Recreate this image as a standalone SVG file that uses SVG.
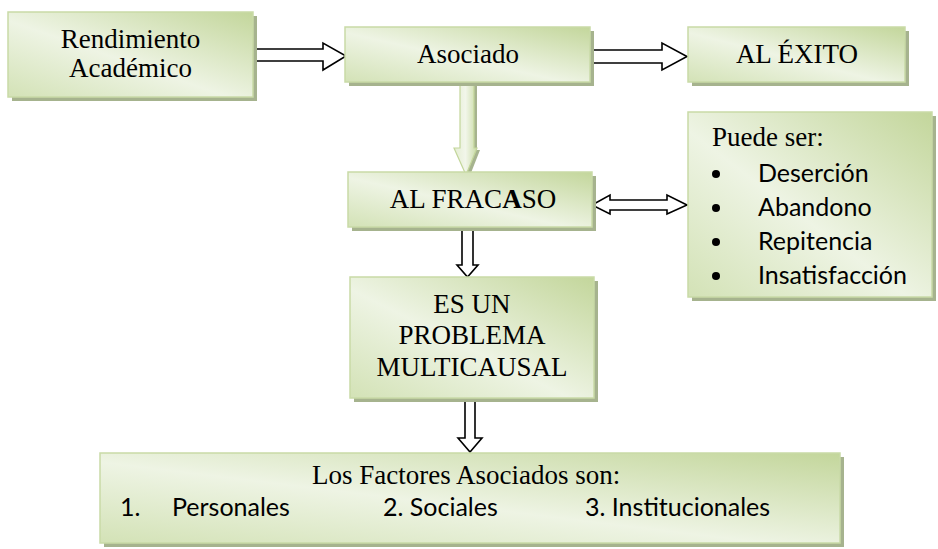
<svg xmlns="http://www.w3.org/2000/svg" width="938" height="549" viewBox="0 0 938 549">
<defs>
<linearGradient id="g" x1="0" y1="1" x2="1" y2="0">
<stop offset="0" stop-color="#d3e2b6"/>
<stop offset="0.45" stop-color="#eef4e4"/>
<stop offset="1" stop-color="#c3d69b"/>
</linearGradient>
<linearGradient id="ga" x1="0" y1="0" x2="1" y2="0">
<stop offset="0" stop-color="#e4edd2"/>
<stop offset="0.5" stop-color="#f2f6ea"/>
<stop offset="1" stop-color="#c9dba6"/>
</linearGradient>
<style>
.box{fill:url(#g);stroke:#c9daa7;stroke-width:1.5}
.sh{fill:#a6b38e}
.t{font-family:"Liberation Serif","Times New Roman",serif;font-size:27px;fill:#000}
.c{font-family:Lato,"Liberation Sans",sans-serif;font-size:25px;fill:#000}
.wa{fill:#fff;stroke:#000;stroke-width:1.6;stroke-linejoin:miter}
.ga{fill:url(#ga);stroke:#c3d69b;stroke-width:1.2}
</style>
</defs>
<g id="connectors">
<polygon class="wa" points="253,49 323,49 323,43 346,56 323,70 323,61 253,61"/>
<polygon class="wa" points="590,50 662,50 662,43 687,56.5 662,70 662,63 590,63"/>
<polygon class="wa" points="592,205 610,195 610,200 667,200 667,195 687,205 667,214 667,210 610,210 610,214"/>
<polygon class="wa" points="462,225 473,225 473,265 478,265 467.5,277 457,265 462,265"/>
<polygon class="wa" points="465,398 475,398 475,438 482,438 470,452 458,438 465,438"/>
<polygon fill="#a6b38e" points="463,86 477,86 477,150 480,150 469,178 457,150 463,150"/>
<polygon class="ga" points="460,83 474,83 474,148 477,148 466,175 454,148 460,148"/>
</g>
<g id="rendimiento">
<rect class="sh" x="12" y="16" width="245" height="85"/>
<rect class="box" x="8" y="12" width="245" height="85"/>
<text class="t" x="130.5" y="48" text-anchor="middle">Rendimiento</text>
<text class="t" x="130.5" y="77" text-anchor="middle">Académico</text>
</g>
<g id="asociado">
<rect class="sh" x="349" y="31" width="245" height="55"/>
<rect class="box" x="345" y="27" width="245" height="55"/>
<text class="t" x="468" y="63" text-anchor="middle">Asociado</text>
</g>
<g id="exito">
<rect class="sh" x="692" y="31" width="217" height="55"/>
<rect class="box" x="688" y="27" width="217" height="55"/>
<text class="t" x="797" y="63" text-anchor="middle">AL ÉXITO</text>
</g>
<g id="fracaso">
<rect class="sh" x="352" y="176" width="244" height="55"/>
<rect class="box" x="348" y="172" width="244" height="55"/>
<text class="t" x="473" y="208" text-anchor="middle">AL FRAC<tspan font-weight="bold">A</tspan>SO</text>
</g>
<g id="puede">
<rect class="sh" x="692" y="116" width="244" height="185"/>
<rect class="box" x="688" y="112" width="244" height="185"/>
<text class="t" x="712" y="146">Puede ser:</text>
<g class="c">
<circle cx="716" cy="174" r="4"/><text x="758" y="182">Deserción</text>
<circle cx="716" cy="208" r="4"/><text x="758" y="216">Abandono</text>
<circle cx="716" cy="242" r="4"/><text x="758" y="250">Repitencia</text>
<circle cx="716" cy="276" r="4"/><text x="758" y="284">Insatisfacción</text>
</g>
</g>
<g id="problema">
<rect class="sh" x="354" y="281" width="244" height="121"/>
<rect class="box" x="350" y="277" width="244" height="121"/>
<text class="t" x="472" y="313" text-anchor="middle">ES UN</text>
<text class="t" x="472" y="344" text-anchor="middle">PROBLEMA</text>
<text class="t" x="472" y="376" text-anchor="middle">MULTICAUSAL</text>
</g>
<g id="factores">
<rect class="sh" x="104" y="457" width="740" height="90"/>
<rect class="box" x="100" y="453" width="740" height="90"/>
<text class="t" x="312" y="484">Los Factores Asociados son:</text>
<g class="c">
<text x="120" y="516">1.</text>
<text x="172" y="516">Personales</text>
<text x="383" y="516">2. Sociales</text>
<text x="585" y="516">3. Institucionales</text>
</g>
</g>
</svg>
